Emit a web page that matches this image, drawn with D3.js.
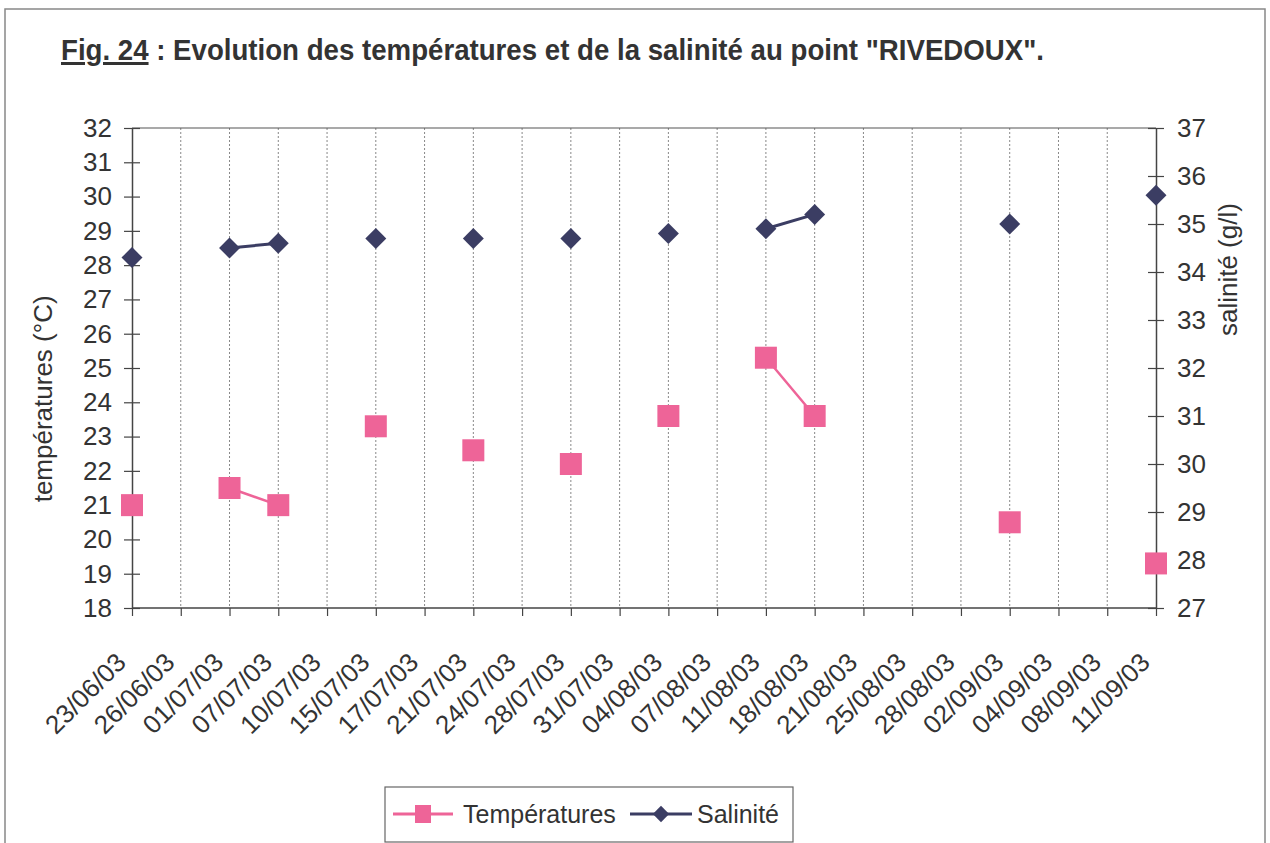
<!DOCTYPE html>
<html>
<head>
<meta charset="utf-8">
<script src="https://d3js.org/d3.v7.min.js"></script>
<style>
  body { margin: 0; background: #fff; }
  svg { display: block; }
</style>
</head>
<body>
<script>
const dates = ["23/06/03", "26/06/03", "01/07/03", "07/07/03", "10/07/03", "15/07/03",
  "17/07/03", "21/07/03", "24/07/03", "28/07/03", "31/07/03", "04/08/03", "07/08/03",
  "11/08/03", "18/08/03", "21/08/03", "25/08/03", "28/08/03", "02/09/03", "04/09/03",
  "08/09/03", "11/09/03"];
const temperatures = [21.0, null, 21.5, 21.0, null, 23.3, null, 22.6, null, 22.2, null,
  23.6, null, 25.3, 23.6, null, null, null, 20.5, null, null, 19.3];
const salinite = [34.3, null, 34.5, 34.6, null, 34.7, null, 34.7, null, 34.7, null,
  34.8, null, 34.9, 35.2, null, null, null, 35.0, null, null, 35.6];
const tempTicks = d3.range(18, 33);
const salTicks = d3.range(27, 38);

const width = 1270, height = 843;
const margin = { top: 128, right: 114, bottom: 235, left: 132 };
const innerW = width - margin.left - margin.right;
const innerH = height - margin.top - margin.bottom;

const pink = "#ee6498";
const navy = "#3b3d63";
const ink = "#333";
const font = '"Liberation Sans", Arial, sans-serif';

const svg = d3.select("body").append("svg")
  .attr("width", width)
  .attr("height", height)
  .style("font-family", font);

// outer frame
svg.append("path")
  .attr("d", `M5,${height} V9 H1265 V${height}`)
  .attr("fill", "none")
  .attr("stroke", "#888")
  .attr("stroke-width", 1.5);

// Title (condensed bold in the original, squeezed to its width)
const title = svg.append("text")
  .attr("x", 61)
  .attr("y", 60)
  .attr("textLength", 983)
  .attr("lengthAdjust", "spacingAndGlyphs")
  .style("font-weight", "bold")
  .style("font-size", "30px")
  .attr("fill", ink);
title.append("tspan").attr("text-decoration", "underline").text("Fig.  24");
title.append("tspan").text(" :  Evolution des températures et de la salinité au point \"RIVEDOUX\".");

const g = svg.append("g").attr("transform", `translate(${margin.left},${margin.top})`);

/*
 * Scales
 */
const x = d3.scalePoint().domain(dates).range([0, innerW]);
const yT = d3.scaleLinear().domain([18, 32]).range([innerH, 0]);
const yS = d3.scaleLinear().domain([27, 37]).range([innerH, 0]);

// dotted grid
g.append("g")
  .selectAll("line")
  .data(dates.slice(1, -1))
  .join("line")
  .attr("x1", (d) => x(d))
  .attr("x2", (d) => x(d))
  .attr("y1", 0)
  .attr("y2", innerH)
  .attr("stroke", "#888")
  .attr("stroke-width", 1)
  .attr("stroke-dasharray", "2,2");

// top border
g.append("line")
  .attr("x1", 0).attr("x2", innerW)
  .attr("stroke", "#555").attr("stroke-width", 1.2);

/*
 * Axes
 */
const styleAxis = (sel) => {
  sel.select(".domain").attr("stroke", "#444").attr("stroke-width", 1.5);
  sel.selectAll(".tick line").attr("stroke", "#444").attr("stroke-width", 1.2);
  sel.selectAll(".tick text").attr("fill", ink).style("font-family", font).style("font-size", "26px");
};

const leftAxis = g.append("g")
  .call(d3.axisLeft(yT).tickValues(tempTicks).tickSize(8).tickSizeOuter(0).tickPadding(12))
  .call(styleAxis);
leftAxis.selectAll(".tick line").attr("x2", -8).attr("x1", 8);

const rightAxis = g.append("g")
  .attr("transform", `translate(${innerW},0)`)
  .call(d3.axisRight(yS).tickValues(salTicks).tickSize(8).tickSizeOuter(0).tickPadding(13))
  .call(styleAxis);
rightAxis.selectAll(".tick line").attr("x1", -8).attr("x2", 8);

const bottomAxis = g.append("g")
  .attr("transform", `translate(0,${innerH})`)
  .call(d3.axisBottom(x).tickSize(8).tickSizeOuter(0))
  .call(styleAxis);
bottomAxis.select(".domain").attr("d", `M0,0H${innerW}`);
bottomAxis.selectAll(".tick text")
  .attr("text-anchor", "end")
  .attr("x", 0)
  .attr("y", 0)
  .attr("dy", 0)
  .attr("transform", "translate(-5,56) rotate(-45)");

// axis titles
g.append("text")
  .attr("transform", `translate(-80,${yT(24.1)}) rotate(-90)`)
  .attr("text-anchor", "middle")
  .attr("fill", ink)
  .style("font-size", "26px")
  .text("températures (°C)");

g.append("text")
  .attr("transform", `translate(${innerW + 81},${yS(34.05)}) rotate(-90)`)
  .attr("text-anchor", "middle")
  .attr("fill", ink)
  .style("font-size", "26px")
  .text("salinité (g/l)");

/*
 * Lines and markers
 */
const tempLine = d3.line()
  .defined((d) => d != null)
  .x((d, i) => x(dates[i]))
  .y((d) => yT(d));
const salLine = d3.line()
  .defined((d) => d != null)
  .x((d, i) => x(dates[i]))
  .y((d) => yS(d));

g.append("path").attr("d", salLine(salinite))
  .attr("fill", "none").attr("stroke", navy).attr("stroke-width", 3);
g.append("path").attr("d", tempLine(temperatures))
  .attr("fill", "none").attr("stroke", pink).attr("stroke-width", 2.5);

const diamond = d3.symbol().type(d3.symbolDiamond2).size(280);

g.append("g")
  .selectAll("path")
  .data(salinite.map((v, i) => ({ v, d: dates[i] })).filter((p) => p.v != null))
  .join("path")
  .attr("transform", (p) => `translate(${x(p.d)},${yS(p.v)})`)
  .attr("d", diamond)
  .attr("fill", navy);

g.append("g")
  .selectAll("rect")
  .data(temperatures.map((v, i) => ({ v, d: dates[i] })).filter((p) => p.v != null))
  .join("rect")
  .attr("x", (p) => x(p.d) - 11)
  .attr("y", (p) => yT(p.v) - 11)
  .attr("width", 22)
  .attr("height", 22)
  .attr("fill", pink);

/*
 * Legend
 */
const legend = svg.append("g").attr("transform", "translate(385,787)");
legend.append("rect")
  .attr("width", 408).attr("height", 55)
  .attr("fill", "#fff").attr("stroke", "#666").attr("stroke-width", 1.2);

const lt = legend.append("g").attr("transform", "translate(0,27)");
lt.append("line").attr("x1", 8).attr("x2", 68).attr("stroke", pink).attr("stroke-width", 3);
lt.append("rect").attr("x", 30).attr("y", -9).attr("width", 16).attr("height", 18).attr("fill", pink);
lt.append("text").attr("x", 78).attr("dy", "0.35em").attr("fill", ink)
  .style("font-size", "25px").text("Températures");

const ls = legend.append("g").attr("transform", "translate(245,27)");
ls.append("line").attr("x1", 0).attr("x2", 62).attr("stroke", navy).attr("stroke-width", 3);
ls.append("path").attr("transform", "translate(31,0)")
  .attr("d", d3.symbol().type(d3.symbolDiamond2).size(170)).attr("fill", navy);
ls.append("text").attr("x", 67).attr("dy", "0.35em").attr("fill", ink)
  .style("font-size", "25px").text("Salinité");
</script>
</body>
</html>
